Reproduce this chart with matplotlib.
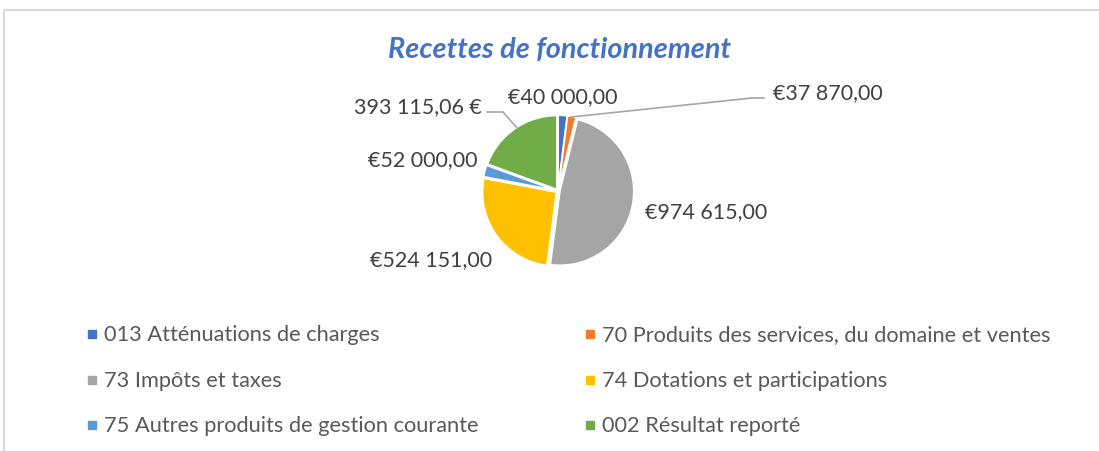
import numpy as np
import matplotlib.pyplot as plt
from matplotlib.patches import Rectangle

# Data
categories = ['013 Atténuations de charges',
              '70 Produits des services, du domaine et ventes',
              '73 Impôts et taxes',
              '74 Dotations et participations',
              '75 Autres produits de gestion courante',
              '002 Résultat reporté']
values = [40000.00, 37870.00, 974615.00, 524151.00, 52000.00, 393115.06]
value_labels = ['€40 000,00', '€37 870,00', '€974 615,00',
                '€524 151,00', '€52 000,00', '393 115,06 €']
colors = ['#4472C4', '#ED7D31', '#A5A5A5', '#FFC000', '#5B9BD5', '#70AD47']

plt.rcParams['font.family'] = ['Lato', 'DejaVu Sans']

W, H = 1099, 452
fig = plt.figure(figsize=(W / 100, H / 100), dpi=100)

# overlay in pixel coords for frame + legend
bg = fig.add_axes([0, 0, 1, 1])
bg.set_xlim(0, W)
bg.set_ylim(H, 0)
bg.axis('off')
bg.add_patch(Rectangle((4, 11), W + 20, H + 20, fill=False,
                       edgecolor='#D9D9D9', linewidth=1.5))

# pie: center (558,192) px, radius 74 px -> 1 unit
cx, cy, r = 558, 192, 74
ax = fig.add_axes([(cx - 2 * r) / W, (H - cy - 2 * r) / H, 4 * r / W, 4 * r / H])
ax.pie(values, colors=colors, startangle=90, counterclock=False,
       explode=[0.025] * len(values), radius=1,
       wedgeprops=dict(edgecolor='white', linewidth=1.3))
ax.set_xlim(-2, 2)
ax.set_ylim(-2, 2)
ax.set_aspect('equal')
ax.axis('off')

def px(x, y):
    return (x - cx) / r, (cy - y) / r

lab_col = '#404040'
fs = 15.5
# label placement (pixel anchors, alignment)
label_pos = [((563, 97), 'center'), ((773, 93), 'left'), ((645, 212), 'left'),
             ((492, 260), 'right'), ((478, 160), 'right'), ((482, 107), 'right')]
for txt, ((x, y), ha) in zip(value_labels, label_pos):
    ax.text(*px(x, y), txt, ha=ha, va='center', fontsize=fs, color=lab_col)

# leader lines
lc = '#A6A6A6'
l1 = np.array([px(571, 118), px(752, 99), px(764, 99)])
ax.plot(l1[:, 0], l1[:, 1], color=lc, lw=1.2, clip_on=False)
l2 = np.array([px(487, 113), px(503, 113), px(517, 129)])
ax.plot(l2[:, 0], l2[:, 1], color=lc, lw=1.2, clip_on=False)

# title
fig.text(560 / W, 1 - 50 / H, 'Recettes de fonctionnement', ha='center', va='center',
         fontsize=20.8, fontweight='bold', fontstyle='italic', color='#4472C4')

# legend (two columns, three rows)
col_x = [91.5, 590]
row_y = [335, 381, 426]
for i, (cat, c) in enumerate(zip(categories, colors)):
    x = col_x[i % 2]
    y = row_y[i // 2]
    bg.plot(x, y, marker='s', color=c, markersize=5.5, linestyle='none')
    bg.text(x + 12, y, cat, ha='left', va='center', fontsize=15.7, color='#595959')

fig.savefig('out.png', dpi=100)
